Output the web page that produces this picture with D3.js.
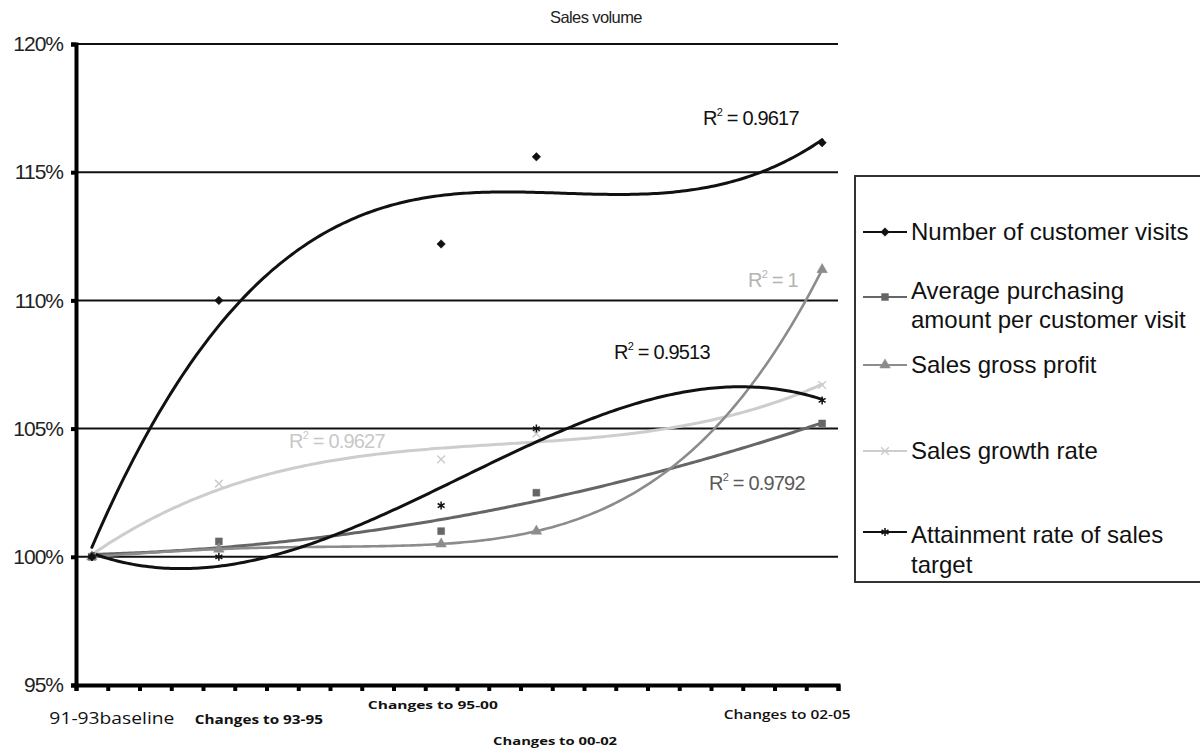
<!DOCTYPE html>
<html>
<head>
<meta charset="utf-8">
<script src="https://cdn.jsdelivr.net/npm/d3@7"></script>
<style>
  html, body { margin: 0; padding: 0; background: #fff; }
  svg { display: block; }
</style>
</head>
<body>
<svg id="chart" width="1200" height="749"></svg>
<script>
// Category axis: 24 slots, observations at a handful of them
const categoryCount = 24;
const pointIndex = [0, 4, 11, 14, 23];

// Series values (percent of the 91-93 baseline)
const customerVisits = [100, 110.0, 112.2, 115.6, 116.15];
const avgPurchase    = [100, 100.6, 101.0, 102.5, 105.2];
const grossProfit    = [100, 100.3, 100.5, 101.0, 111.2];
const growthRate     = [100, 102.85, 103.8, 104.8, 106.7];
const attainment     = [100, 100.0, 102.0, 105.0, 106.1];

// Axis labels
const yTicks = [95, 100, 105, 110, 115, 120];
const categoryLabels = [
  { index: 0,  text: "91-93baseline" },
  { index: 4,  text: "Changes to 93-95" },
  { index: 11, text: "Changes to 95-00" },
  { index: 14, text: "Changes to 00-02" },
  { index: 23, text: "Changes to 02-05" }
];

// Trendline goodness-of-fit labels
const r2Labels = ["0.9617", "0.9792", "1", "0.9627", "0.9513"];

const seriesNames = [
  ["Number of customer visits"],
  ["Average purchasing", "amount per customer visit"],
  ["Sales gross profit"],
  ["Sales growth rate"],
  ["Attainment rate of sales", "target"]
];
const seriesValues = [customerVisits, avgPurchase, grossProfit, growthRate, attainment];
const trendOrder = [3, 2, 4, 3, 3];

const styles = [
  { color: "#111", symbol: d3.symbolSquare, rotate: 45, size: 36, filled: true, lw: 3 },
  { color: "#666", symbol: d3.symbolSquare, rotate: 0, size: 48, filled: true, lw: 3 },
  { color: "#8c8c8c", symbol: d3.symbolTriangle, rotate: 0, size: 48, filled: true, lw: 2.6 },
  { color: "#cdcdcd", symbol: d3.symbolX, rotate: 0, size: 40, filled: false, lw: 3 },
  { color: "#111", symbol: d3.symbolAsterisk, rotate: 0, size: 45, filled: false, lw: 3 }
];

const svg = d3.select("#chart");
const plot = { left: 76, right: 838, top: 44, bottom: 685 };

const x = d3.scaleLinear().domain([-0.5, categoryCount - 0.5]).range([plot.left, plot.right]);
const y = d3.scaleLinear().domain([95, 120]).range([plot.bottom, plot.top]);

// Least-squares polynomial fit (normal equations + Gaussian elimination)
function polyFit(xs, ys, order) {
  const n = order + 1;
  const A = Array.from({ length: n }, () => new Array(n + 1).fill(0));
  for (let r = 0; r < n; r++) {
    for (let c = 0; c < n; c++) A[r][c] = d3.sum(xs, v => Math.pow(v, r + c));
    A[r][n] = d3.sum(xs, (v, i) => ys[i] * Math.pow(v, r));
  }
  for (let i = 0; i < n; i++) {
    let p = i;
    for (let k = i + 1; k < n; k++) if (Math.abs(A[k][i]) > Math.abs(A[p][i])) p = k;
    [A[i], A[p]] = [A[p], A[i]];
    for (let k = i + 1; k < n; k++) {
      const f = A[k][i] / A[i][i];
      for (let c = i; c <= n; c++) A[k][c] -= f * A[i][c];
    }
  }
  const coef = new Array(n).fill(0);
  for (let i = n - 1; i >= 0; i--) {
    let s = A[i][n];
    for (let c = i + 1; c < n; c++) s -= A[i][c] * coef[c];
    coef[i] = s / A[i][i];
  }
  return t => coef.reduce((acc, a, k) => acc + a * Math.pow(t, k), 0);
}

// Title
svg.append("text")
  .attr("x", 596).attr("y", 23)
  .attr("text-anchor", "middle")
  .attr("font-family", "'Liberation Sans Narrow', 'Liberation Sans', sans-serif")
  .attr("font-size", 16.5)
  .attr("letter-spacing", -0.6)
  .attr("fill", "#222")
  .text("Sales volume");

// Horizontal gridlines
svg.append("g").selectAll("line")
  .data(yTicks.filter(v => v > 95))
  .join("line")
  .attr("x1", plot.left).attr("x2", plot.right)
  .attr("y1", d => y(d)).attr("y2", d => y(d))
  .attr("stroke", "#111").attr("stroke-width", 2);

// Y axis
const yAxis = svg.append("g")
  .attr("transform", `translate(${plot.left},0)`)
  .call(d3.axisLeft(y).tickValues(yTicks).tickSize(5).tickFormat(d => d + "%"));
yAxis.select(".domain").attr("stroke", "#000").attr("stroke-width", 4);
yAxis.selectAll(".tick line").attr("stroke", "#000").attr("stroke-width", 4);
yAxis.selectAll(".tick text")
  .attr("x", -13)
  .attr("font-family", "'Liberation Sans Narrow', 'Liberation Sans', sans-serif")
  .attr("font-size", 21)
  .attr("letter-spacing", -1)
  .attr("fill", "#222");

// X axis with a tick at every slot boundary
const xAxis = svg.append("g")
  .attr("transform", `translate(0,${plot.bottom})`)
  .call(d3.axisBottom(x).tickValues(d3.range(-0.5, categoryCount, 1)).tickSize(6).tickFormat(""));
xAxis.select(".domain").attr("stroke", "#000").attr("stroke-width", 4);
xAxis.selectAll(".tick line").attr("stroke", "#000").attr("stroke-width", 4);

// Category labels (staggered rows)
const labelLayout = [
  { dx: 0.63, y: 724, size: 17, len: 125, weight: 500 },
  { dx: 1.26, y: 724, size: 12, len: 128, weight: 700 },
  { dx: -0.26, y: 709, size: 10.5, len: 130, weight: 700 },
  { dx: 0.59, y: 745, size: 10.5, len: 124, weight: 700 },
  { dx: -1.1, y: 719, size: 13, len: 127, weight: 600 }
];
svg.append("g").selectAll("text")
  .data(categoryLabels)
  .join("text")
  .attr("x", (d, i) => x(d.index + labelLayout[i].dx))
  .attr("y", (d, i) => labelLayout[i].y)
  .attr("text-anchor", "middle")
  .attr("font-family", "'Open Sans', sans-serif")
  .attr("font-weight", (d, i) => labelLayout[i].weight)
  .attr("font-size", (d, i) => labelLayout[i].size)
  .attr("textLength", (d, i) => labelLayout[i].len)
  .attr("lengthAdjust", "spacingAndGlyphs")
  .attr("fill", "#111")
  .text(d => d.text);

// Polynomial trendlines
const line = d3.line().x(d => x(d[0])).y(d => y(d[1])).curve(d3.curveLinear);
const samples = d3.range(0, 23.001, 0.1);
const drawOrder = [3, 1, 2, 4, 0];
drawOrder.forEach(i => {
  const f = polyFit(pointIndex, seriesValues[i], trendOrder[i]);
  svg.append("path")
    .datum(samples.map(t => [t, f(t)]))
    .attr("d", line)
    .attr("fill", "none")
    .attr("stroke", styles[i].color)
    .attr("stroke-width", styles[i].lw)
    .attr("stroke-linecap", "round");
});

// Observation markers
function marker(sel, st, px, py) {
  sel.attr("d", d3.symbol().type(st.symbol).size(st.size)())
    .attr("fill", st.filled ? st.color : "none")
    .attr("stroke", st.color)
    .attr("stroke-width", st.filled ? 0.5 : 1.5);
}
drawOrder.forEach(i => {
  svg.append("g").selectAll("path")
    .data(seriesValues[i])
    .join("path")
    .attr("transform", (d, k) => `translate(${x(pointIndex[k])},${y(d)}) rotate(${styles[i].rotate})`)
    .call(marker, styles[i]);
});

// R² annotations
const r2Layout = [
  { x: 703, y: 125, color: "#111" },
  { x: 709, y: 490, color: "#5a5a5a" },
  { x: 748, y: 287, color: "#b4b4b4" },
  { x: 289, y: 448, color: "#c8c8c8" },
  { x: 614, y: 359, color: "#111" }
];
r2Labels.forEach((v, i) => {
  const L = r2Layout[i];
  const t = svg.append("text")
    .attr("x", L.x).attr("y", L.y)
    .attr("font-family", "'Liberation Sans Narrow', 'Liberation Sans', sans-serif")
    .attr("font-size", 20)
    .attr("letter-spacing", -0.8)
    .attr("fill", L.color);
  t.append("tspan").text("R");
  t.append("tspan").attr("dy", -9).attr("font-size", 11).text("2");
  t.append("tspan").attr("dy", 9).text(" = " + v);
});

// Legend
const legend = svg.append("g");
legend.append("rect")
  .attr("x", 855).attr("y", 176).attr("width", 370).attr("height", 406)
  .attr("fill", "#fff").attr("stroke", "#333").attr("stroke-width", 2);
const legendRows = [
  { line: 232, text: [240] },
  { line: 297, text: [299, 328] },
  { line: 365, text: [373] },
  { line: 451, text: [459] },
  { line: 532, text: [543, 573] }
];
seriesNames.forEach((names, i) => {
  const st = styles[i];
  const row = legendRows[i];
  legend.append("line")
    .attr("x1", 863).attr("x2", 907)
    .attr("y1", row.line).attr("y2", row.line)
    .attr("stroke", st.color).attr("stroke-width", 2);
  legend.append("path")
    .attr("transform", `translate(885,${row.line}) rotate(${st.rotate})`)
    .call(marker, st);
  names.forEach((n, k) => {
    legend.append("text")
      .attr("x", 911).attr("y", row.text[k])
      .attr("font-family", "'Liberation Sans', Arial, sans-serif")
      .attr("font-size", 24)
      .attr("fill", "#111")
      .text(n);
  });
});
</script>
</body>
</html>
